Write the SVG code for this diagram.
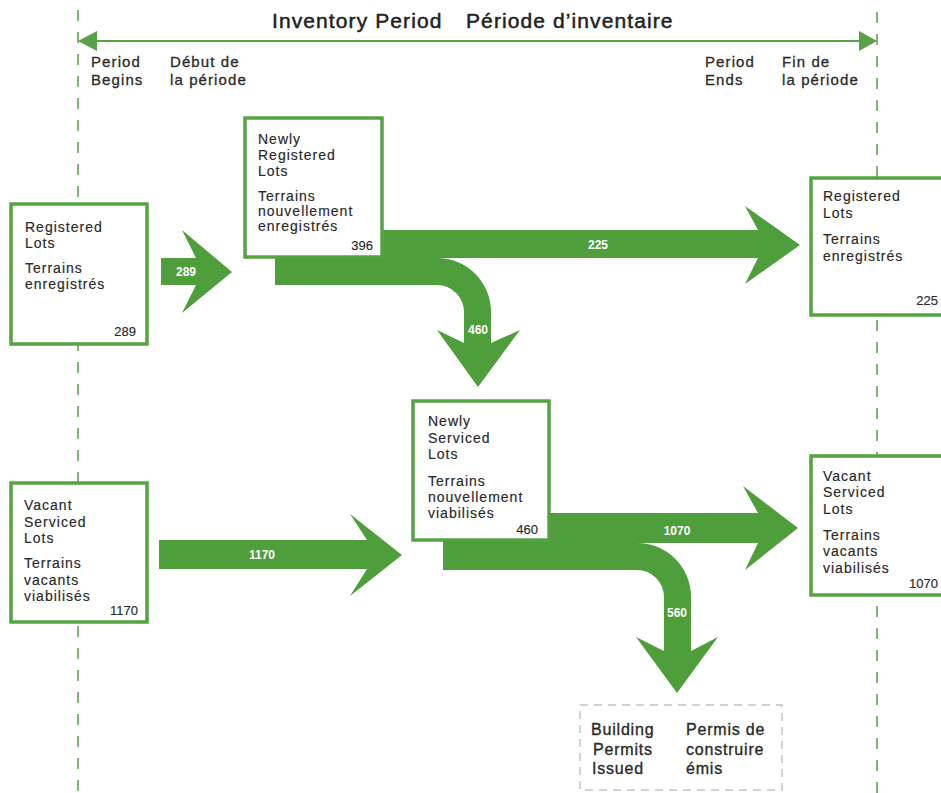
<svg xmlns="http://www.w3.org/2000/svg" width="941" height="793" viewBox="0 0 941 793">
<style>
.dash{stroke:#5fa64f;stroke-width:1.6;stroke-dasharray:11 11;fill:none}
.flow{fill:#4e9e3b}
.box{fill:#fff;stroke:#55a443;stroke-width:3.5}
.t{font-family:"Liberation Sans",Arial,sans-serif;font-size:14px;letter-spacing:1px;fill:#2a2a2a;stroke:#2a2a2a;stroke-width:0.18}
.n{font-family:"Liberation Sans",Arial,sans-serif;font-size:13px;fill:#2a2a2a;stroke:#2a2a2a;stroke-width:0.15;text-anchor:end}
.h{font-family:"Liberation Sans",Arial,sans-serif;font-size:15px;letter-spacing:1.1px;fill:#2a2a2a;stroke:#2a2a2a;stroke-width:0.3}
.title{font-family:"Liberation Sans",Arial,sans-serif;font-size:21px;letter-spacing:1.1px;fill:#222;stroke:#222;stroke-width:0.5}
.lbl{font-family:"Liberation Sans",Arial,sans-serif;font-size:12px;font-weight:bold;fill:#fff;text-anchor:middle}
.bp{font-family:"Liberation Sans",Arial,sans-serif;font-size:16px;letter-spacing:0.8px;fill:#2a2a2a;stroke:#2a2a2a;stroke-width:0.35}
</style>
<g id="timeline">
<line class="dash" x1="78" y1="10" x2="78" y2="793"/>
<line class="dash" x1="877" y1="12" x2="877" y2="793"/>
<line x1="95" y1="41" x2="860" y2="41" stroke="#5aa046" stroke-width="2"/>
<path d="M78,41 L97,31 L97,51 Z" fill="#5aa046"/>
<path d="M877,41 L859,31 L859,51 Z" fill="#5aa046"/>
<text class="title" x="272" y="28">Inventory Period</text>
<text class="title" x="466" y="28">Période d’inventaire</text>
<text class="h" x="91" y="67">Period</text>
<text class="h" x="91" y="85">Begins</text>
<text class="h" x="170" y="67">Début de</text>
<text class="h" x="170" y="85">la période</text>
<text class="h" x="705" y="67">Period</text>
<text class="h" x="705" y="85">Ends</text>
<text class="h" x="782" y="67">Fin de</text>
<text class="h" x="782" y="85">la période</text>
</g>
<g id="connectors">
<path class="flow" d="M161,258 H196 L182,230 L232,272 L182,313 L196,285 H161 Z"/>
<text class="lbl" x="186" y="276">289</text>
<path class="flow" d="M275,230 H758 L745,206 L800,245 L745,284 L758,258 H437 A54,54 0 0 1 491,312 V343 L520,330 L478,387 L437,330 L464,343 V312 A27,27 0 0 0 437,285 H275 Z"/>
<text class="lbl" x="598" y="249">225</text>
<text class="lbl" x="478" y="334">460</text>
<path class="flow" d="M159,540 H367 L350,514 L402,555 L350,596 L367,569 H159 Z"/>
<text class="lbl" x="262" y="559">1170</text>
<path class="flow" d="M443,513 H758 L743,486 L798,528 L745,570 L758,543 H637 A54,54 0 0 1 691,597 V651 L718,637 L677,693 L636,637 L664,651 V597 A27,27 0 0 0 637,570 H443 Z"/>
<text class="lbl" x="677" y="535">1070</text>
<text class="lbl" x="677" y="617">560</text>
</g>
<g id="registered-lots-begin">
<rect class="box" x="11" y="204" width="136" height="140"/>
<text class="t" x="25" y="232">Registered</text>
<text class="t" x="25" y="248">Lots</text>
<text class="t" x="25" y="273">Terrains</text>
<text class="t" x="25" y="289">enregistrés</text>
<text class="n" x="136" y="336">289</text>
</g>
<g id="newly-registered-lots">
<rect class="box" x="245" y="118" width="137" height="139"/>
<text class="t" x="258" y="144">Newly</text>
<text class="t" x="258" y="160">Registered</text>
<text class="t" x="258" y="176">Lots</text>
<text class="t" x="258" y="201">Terrains</text>
<text class="t" x="258" y="216">nouvellement</text>
<text class="t" x="258" y="231">enregistrés</text>
<text class="n" x="373" y="250">396</text>
</g>
<g id="registered-lots-end">
<rect class="box" x="811" y="178" width="140" height="137"/>
<text class="t" x="823" y="201">Registered</text>
<text class="t" x="823" y="218">Lots</text>
<text class="t" x="823" y="244">Terrains</text>
<text class="t" x="823" y="261">enregistrés</text>
<text class="n" x="938" y="305">225</text>
</g>
<g id="vacant-serviced-lots-begin">
<rect class="box" x="11" y="483" width="136" height="139"/>
<text class="t" x="24" y="510">Vacant</text>
<text class="t" x="24" y="527">Serviced</text>
<text class="t" x="24" y="543">Lots</text>
<text class="t" x="24" y="568">Terrains</text>
<text class="t" x="24" y="585">vacants</text>
<text class="t" x="24" y="601">viabilisés</text>
<text class="n" x="138" y="615">1170</text>
</g>
<g id="newly-serviced-lots">
<rect class="box" x="413" y="401" width="136" height="139"/>
<text class="t" x="428" y="426">Newly</text>
<text class="t" x="428" y="443">Serviced</text>
<text class="t" x="428" y="459">Lots</text>
<text class="t" x="428" y="486">Terrains</text>
<text class="t" x="428" y="502">nouvellement</text>
<text class="t" x="428" y="518">viabilisés</text>
<text class="n" x="538" y="534">460</text>
</g>
<g id="vacant-serviced-lots-end">
<rect class="box" x="811" y="456" width="140" height="139"/>
<text class="t" x="823" y="481">Vacant</text>
<text class="t" x="823" y="497">Serviced</text>
<text class="t" x="823" y="514">Lots</text>
<text class="t" x="823" y="540">Terrains</text>
<text class="t" x="823" y="556">vacants</text>
<text class="t" x="823" y="573">viabilisés</text>
<text class="n" x="938" y="588">1070</text>
</g>
<g id="building-permits">
<rect x="580" y="705" width="202" height="85" fill="#fff" stroke="#c4c4c4" stroke-width="1.5" stroke-dasharray="8 6"/>
<text class="bp" x="591" y="735">Building</text>
<text class="bp" x="593" y="755">Permits</text>
<text class="bp" x="592" y="774">Issued</text>
<text class="bp" x="686" y="735">Permis de</text>
<text class="bp" x="686" y="755">construire</text>
<text class="bp" x="686" y="774">émis</text>
</g>
</svg>
